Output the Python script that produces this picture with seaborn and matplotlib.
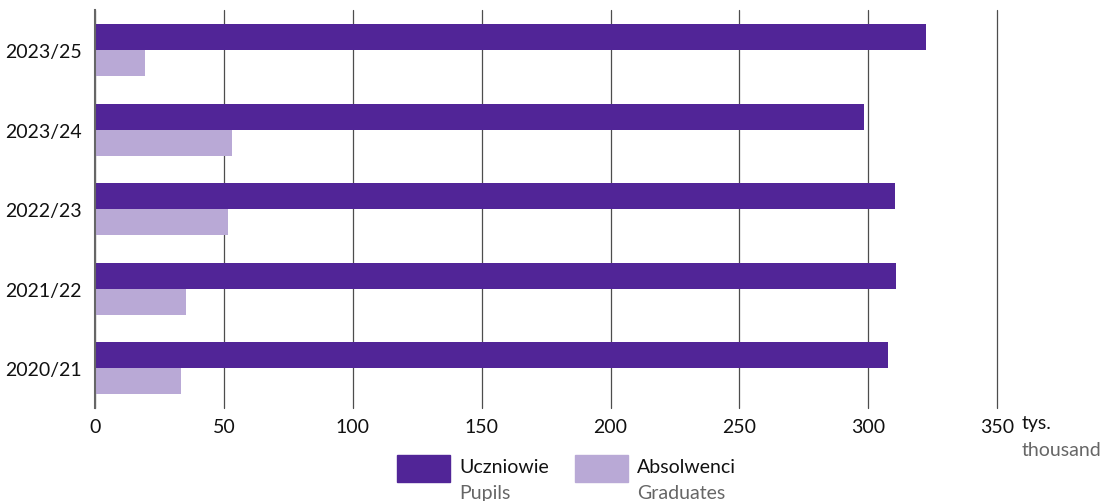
import pandas as pd
import matplotlib.pyplot as plt
import matplotlib.patches as mpatches
import seaborn as sns

years = ['2023/25', '2023/24', '2022/23', '2021/22', '2020/21']
pupils = [322.5, 298.4, 310.4, 310.8, 307.7]
graduates = [19.4, 53.2, 51.6, 35.3, 33.4]
x_ticks = [0, 50, 100, 150, 200, 250, 300, 350]

pupil_color = '#512597'
grad_color = '#b9a9d6'

df = pd.DataFrame({
    'year': years * 2,
    'value': pupils + graduates,
    'series': ['Pupils'] * len(years) + ['Graduates'] * len(years),
})

sns.set_style('white')
plt.rcParams['font.family'] = ['Lato', 'DejaVu Sans']

fig = plt.figure(figsize=(11.09, 5.02), dpi=100)
ax = fig.add_axes([0.0857, 0.1857, 0.8134, 0.7919])

sns.barplot(data=df, x='value', y='year', hue='series', order=years,
            hue_order=['Pupils', 'Graduates'],
            palette=[pupil_color, grad_color], orient='h', width=0.654,
            saturation=1, legend=False, linewidth=0, ax=ax)

ax.set_xlim(0, 350)
ax.set_ylim(len(years) - 0.5, -0.5)
ax.set_xticks(x_ticks)
ax.set_xticklabels([str(t) for t in x_ticks])
ax.grid(axis='x', color='#4d4d4d', linewidth=0.9)
ax.grid(axis='y', visible=False)
for gl in ax.get_xgridlines():
    gl.set_clip_on(False)
ax.set_axisbelow(True)
for s in ['top', 'right', 'bottom']:
    ax.spines[s].set_visible(False)
ax.spines['left'].set_color('#666666')
ax.spines['left'].set_linewidth(1.5)
ax.tick_params(axis='both', length=0, labelsize=14, colors='#111111')
ax.tick_params(axis='x', pad=7)
ax.tick_params(axis='y', pad=9.5)
ax.set_xlabel('')
ax.set_ylabel('')

# unit label
fig.text(1022 / 1109, 1 - 424 / 502, 'tys.', fontsize=14, color='#111111',
         ha='left', va='center')
fig.text(1022 / 1109, 1 - 451 / 502, 'thousand', fontsize=14, color='#666666',
         ha='left', va='center')

# legend
for x0, pl, en, col in [(397, 'Uczniowie', 'Pupils', pupil_color),
                        (575, 'Absolwenci', 'Graduates', grad_color)]:
    fig.patches.append(mpatches.Rectangle((x0 / 1109, 1 - 483 / 502), 53 / 1109, 27 / 502,
                                          transform=fig.transFigure, color=col))
    fig.text((x0 + 62) / 1109, 1 - 468 / 502, pl, fontsize=14, color='#111111',
             ha='left', va='center')
    fig.text((x0 + 62) / 1109, 1 - 494 / 502, en, fontsize=14, color='#666666',
             ha='left', va='center')

fig.savefig('out.png', dpi=100)
